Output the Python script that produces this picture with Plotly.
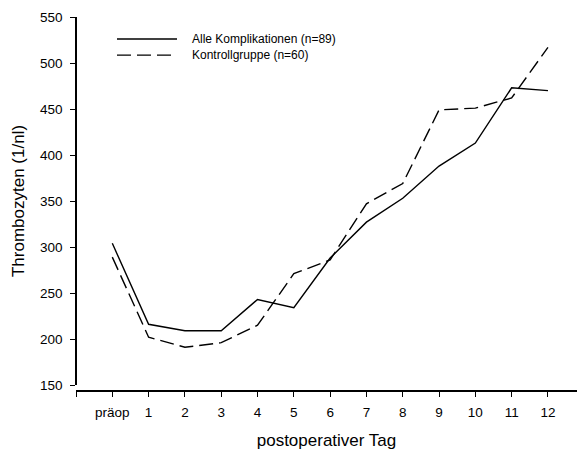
import plotly.graph_objects as go

categories = ["präop", "1", "2", "3", "4", "5", "6", "7", "8", "9", "10", "11", "12"]
alle_komplikationen = [304, 216, 209, 209, 243, 234, 288, 327, 353, 388, 413, 473, 470]
kontrollgruppe = [289, 202, 191, 196, 215, 271, 286, 347, 369, 449, 451, 462, 517]
y_ticks = [150, 200, 250, 300, 350, 400, 450, 500, 550]

x_pos = list(range(len(categories)))
FONT = "Liberation Sans, Arial, sans-serif"

fig = go.Figure()
fig.add_trace(go.Scatter(
    x=x_pos, y=alle_komplikationen, mode="lines", name="Alle Komplikationen (n=89)",
    line=dict(color="black", width=1.4), showlegend=False))
fig.add_trace(go.Scatter(
    x=x_pos, y=kontrollgruppe, mode="lines", name="Kontrollgruppe (n=60)",
    line=dict(color="black", width=1.4, dash="14px,6px"), showlegend=False))

# custom legend (line samples + labels)
legend_items = [("Alle Komplikationen (n=89)", "solid", 0.941),
                ("Kontrollgruppe (n=60)", "14px,6px", 0.898)]
for label, dash, yy in legend_items:
    fig.add_shape(type="line", xref="paper", yref="paper", x0=0.0818, x1=0.2016, y0=yy, y1=yy,
                  line=dict(color="black", width=1.4, dash=dash))
    fig.add_annotation(xref="paper", yref="paper", x=0.227, y=yy, text=label, showarrow=False,
                       xanchor="left", yanchor="middle", font=dict(family=FONT, size=12, color="black"))

fig.update_layout(
    width=577, height=450,
    margin=dict(l=76, r=0, t=17, b=59),
    paper_bgcolor="white", plot_bgcolor="white",
    font=dict(family=FONT, color="black"),
    xaxis=dict(
        range=[-1, 12.8], tickmode="array", tickvals=[-1] + x_pos, ticktext=[""] + categories,
        showgrid=False, zeroline=False, showline=True, linecolor="black", linewidth=1.5,
        ticks="outside", ticklen=5, tickwidth=1.2, tickcolor="black",
        tickfont=dict(size=13.5), ticklabelstandoff=4,
        anchor="free", position=0,
        title=dict(text="postoperativer Tag", font=dict(size=17), standoff=14)),
    yaxis=dict(
        range=[150, 550], tickvals=y_ticks, domain=[0.016, 1],
        showgrid=False, zeroline=False, showline=True, linecolor="black", linewidth=1.5,
        ticks="outside", ticklen=5, tickwidth=1.2, tickcolor="black",
        tickfont=dict(size=13.5), ticklabelstandoff=5,
        anchor="free", position=0,
        title=dict(text="Thrombozyten (1/nl)", font=dict(size=17), standoff=10)),
)

fig.write_html("out.html")
